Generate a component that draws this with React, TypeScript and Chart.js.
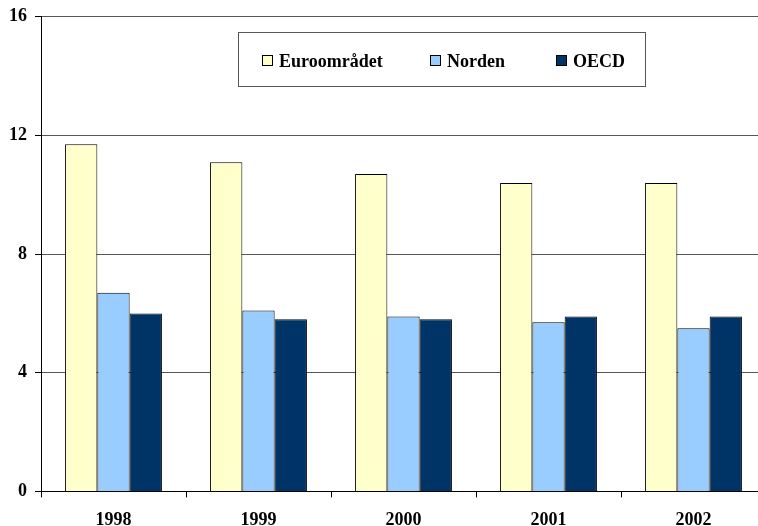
import React, { useEffect, useRef } from "react";
import { Chart, registerables } from "chart.js";

Chart.register(...registerables);

const categories = ["1998", "1999", "2000", "2001", "2002"];
const seriesNames = ["Euroområdet", "Norden", "OECD"];
const euroValues = [11.7, 11.1, 10.7, 10.4, 10.4];
const nordenValues = [6.7, 6.1, 5.9, 5.7, 5.5];
const oecdValues = [6.0, 5.8, 5.8, 5.9, 5.9];
const yTicks = [0, 4, 8, 12, 16];

const colors = ["#FFFFCC", "#99CCFF", "#003366"];
const FONT = "'Liberation Serif', 'Times New Roman', serif";
const SHIFT = 2;

const legendPlugin = {
  id: "boxLegend",
  afterDraw(chart: any) {
    const ctx = chart.ctx;
    const oy = SHIFT;
    ctx.save();
    ctx.fillStyle = "#ffffff";
    ctx.fillRect(238, 32 + oy, 408, 55);
    ctx.strokeStyle = "#555555";
    ctx.lineWidth = 1;
    ctx.strokeRect(238.5, 32.5 + oy, 407, 54);
    const markerX = [262, 430, 556];
    ctx.font = `bold 18px ${FONT}`;
    ctx.textBaseline = "alphabetic";
    ctx.textAlign = "left";
    chart.data.datasets.forEach((ds: any, i: number) => {
      const x = markerX[i];
      ctx.fillStyle = ds.backgroundColor;
      ctx.fillRect(x + 0.5, 55.5 + oy, 10, 10);
      ctx.strokeStyle = "#000000";
      ctx.strokeRect(x + 0.5, 55.5 + oy, 10, 10);
      ctx.fillStyle = "#000000";
      ctx.fillText(ds.label, x + 17, 67 + oy);
    });
    ctx.restore();
  },
};

export default function App() {
  const ref = useRef<HTMLCanvasElement | null>(null);
  useEffect(() => {
    if (!ref.current) return;
    const values = [euroValues, nordenValues, oecdValues];
    const chart = new Chart(ref.current, {
      type: "bar",
      data: {
        labels: categories,
        datasets: seriesNames.map((name, i) => ({
          label: name,
          data: values[i],
          backgroundColor: colors[i],
          borderColor: "#000000",
          borderWidth: 1,
          categoryPercentage: 0.668,
          barPercentage: 1,
        })),
      },
      options: {
        responsive: false,
        animation: false,
        layout: { padding: { top: 13, left: 1, right: 4, bottom: 1 } },
        plugins: { legend: { display: false }, tooltip: { enabled: false } },
        scales: {
          x: {
            grid: {
              offset: true,
              drawOnChartArea: false,
              drawTicks: true,
              tickLength: 6,
              color: "#000000",
            },
            border: { color: "#000000", width: 1 },
            ticks: {
              color: "#000000",
              padding: 12,
              font: { family: FONT, size: 18, weight: "bold" },
            },
          },
          y: {
            min: 0,
            max: 16,
            afterBuildTicks: (scale: any) => {
              scale.ticks = yTicks.map((v) => ({ value: v }));
            },
            grid: {
              color: "#555555",
              tickColor: "#000000",
              tickLength: 6,
            },
            border: { color: "#000000", width: 1 },
            ticks: {
              color: "#000000",
              padding: 8,
              font: { family: FONT, size: 18, weight: "bold" },
            },
          },
        },
      },
      plugins: [legendPlugin],
    });
    return () => chart.destroy();
  }, []);
  return (
    <div
      style={{
        position: "fixed",
        left: 0,
        top: 0,
        width: 758,
        height: 526,
        overflow: "hidden",
        background: "#ffffff",
      }}
    >
      <canvas
        ref={ref}
        width={770}
        height={546}
        style={{ display: "block", marginTop: -SHIFT }}
      />
    </div>
  );
}
